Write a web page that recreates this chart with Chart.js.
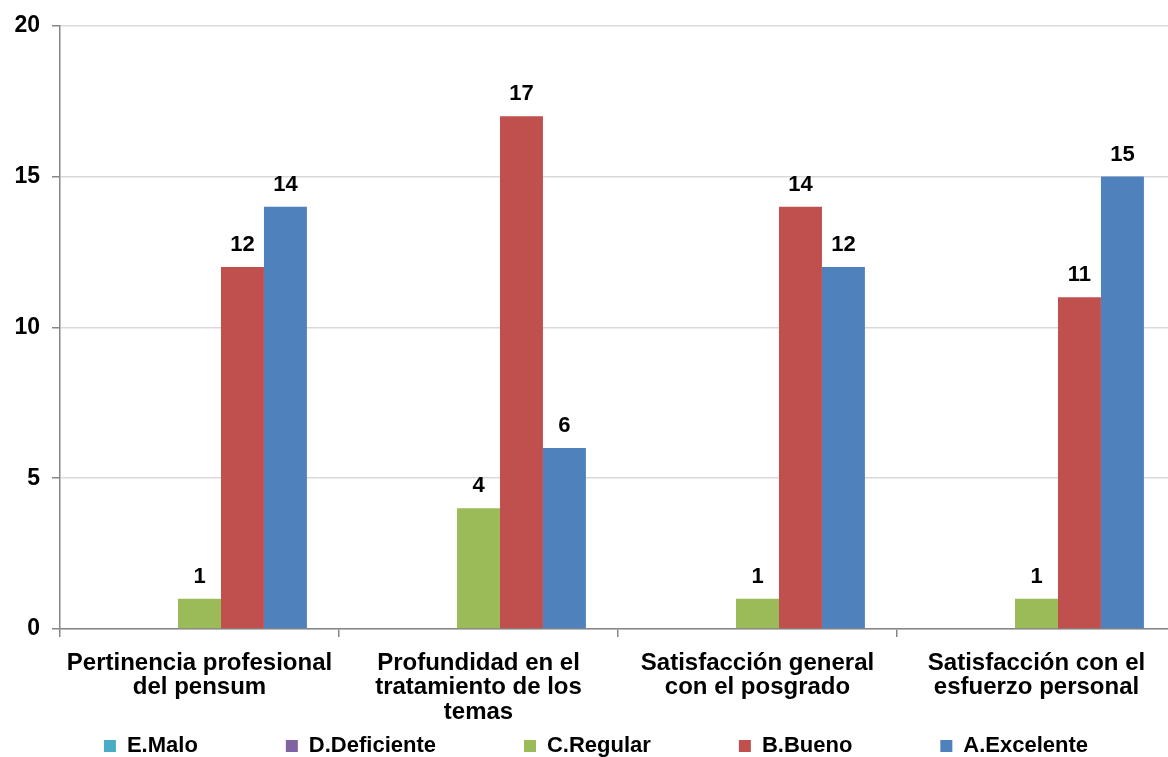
<!DOCTYPE html>
<html>
<head>
<meta charset="utf-8">
<script src="https://cdn.jsdelivr.net/npm/chart.js@4.4.1/dist/chart.umd.min.js"></script>
<style>
  html, body { margin: 0; padding: 0; background: #ffffff; overflow: hidden; }
  #wrap { width: 1178px; height: 757px; }
</style>
</head>
<body>
<div id="wrap"><canvas id="c" width="1178" height="757"></canvas></div>
<script>
const categories = [
  ['Pertinencia profesional', 'del pensum'],
  ['Profundidad en el', 'tratamiento de los', 'temas'],
  ['Satisfacción general', 'con el posgrado'],
  ['Satisfacción con el', 'esfuerzo personal']
];
const seriesNames = ['E.Malo', 'D.Deficiente', 'C.Regular', 'B.Bueno', 'A.Excelente'];
const malo = [0, 0, 0, 0];
const deficiente = [0, 0, 0, 0];
const regular = [1, 4, 1, 1];
const bueno = [12, 17, 14, 11];
const excelente = [14, 6, 12, 15];
const yTicks = [0, 5, 10, 15, 20];

const colors = ['#4BACC6', '#8064A2', '#9BBB59', '#C0504D', '#4F81BD'];
const seriesData = [malo, deficiente, regular, bueno, excelente];

const FONT = "'Liberation Sans', Arial, sans-serif";

const valueLabels = {
  id: 'valueLabels',
  afterDatasetsDraw(chart) {
    const ctx = chart.ctx;
    ctx.save();
    ctx.font = 'bold 22px ' + FONT;
    ctx.fillStyle = '#000000';
    ctx.textAlign = 'center';
    ctx.textBaseline = 'alphabetic';
    chart.data.datasets.forEach((ds, di) => {
      const meta = chart.getDatasetMeta(di);
      meta.data.forEach((el, i) => {
        const v = ds.data[i];
        if (v > 0) ctx.fillText(String(v), el.x, el.y - 16);
      });
    });
    ctx.restore();
  }
};

const legendShift = {
  id: 'legendShift',
  afterLayout(chart) {
    const lg = chart.legend;
    if (!lg) return;
    const pad = lg.options.labels.padding;
    const itemH = Math.max(lg.options.labels.font.size, lg.options.labels.boxHeight);
    const desiredCenter = 746;
    lg.top = desiredCenter - pad - itemH / 2;
    lg.bottom = chart.height;
    lg.height = lg.bottom - lg.top;
    lg.left = lg.left + 8;
    lg.right = lg.right + 8;
  }
};

new Chart(document.getElementById('c'), {
  type: 'bar',
  data: {
    labels: categories,
    datasets: seriesData.map((d, i) => ({
      label: seriesNames[i],
      data: d,
      backgroundColor: colors[i],
      borderWidth: 0,
      categoryPercentage: 0.77,
      barPercentage: 1.0
    }))
  },
  options: {
    responsive: false,
    animation: false,
    devicePixelRatio: 1,
    layout: { padding: { top: 25, right: 2, left: 0, bottom: 0 } },
    plugins: {
      tooltip: { enabled: false },
      legend: {
        position: 'bottom',
        maxHeight: 30,
        labels: {
          boxWidth: 12,
          boxHeight: 12,
          padding: 88,
          color: '#000000',
          font: { family: FONT, size: 22, weight: 'bold' }
        }
      }
    },
    scales: {
      x: {
        grid: {
          offset: true,
          drawOnChartArea: false,
          drawTicks: true,
          tickLength: 8,
          tickColor: '#868686',
          lineWidth: 1.5
        },
        border: { color: '#868686', width: 1.5 },
        ticks: {
          color: '#000000',
          maxRotation: 0,
          autoSkip: false,
          padding: 14,
          font: { family: FONT, size: 24, weight: 'bold', lineHeight: 1.02 }
        },
        afterFit(scale) { scale.height = 98; }
      },
      y: {
        min: 0,
        max: 20,
        afterBuildTicks(scale) { scale.ticks = yTicks.map(v => ({ value: v })); },
        grid: {
          color: '#d9d9d9',
          lineWidth: 1.5,
          drawTicks: true,
          tickLength: 8,
          tickColor: '#868686'
        },
        border: { color: '#868686', width: 1.5 },
        ticks: {
          color: '#000000',
          padding: 12,
          font: { family: FONT, size: 23, weight: 'bold' }
        },
        afterFit(scale) { scale.width = 60; }
      }
    }
  },
  plugins: [valueLabels, legendShift]
});
</script>
</body>
</html>
